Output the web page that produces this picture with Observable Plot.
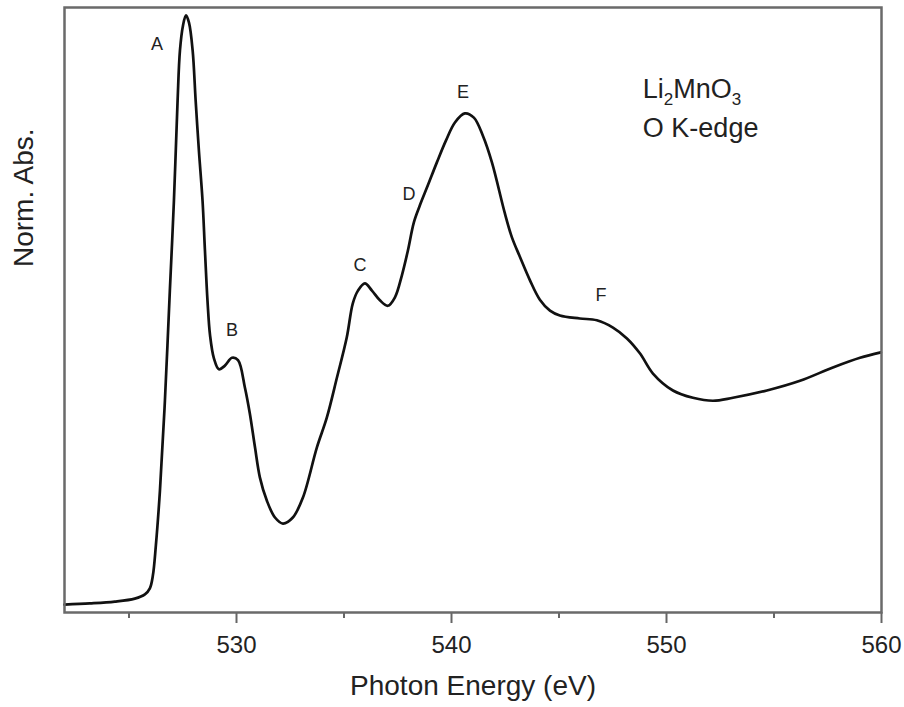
<!DOCTYPE html>
<html>
<head>
<meta charset="utf-8">
<script src="https://cdn.jsdelivr.net/npm/d3@7"></script>
<script src="https://cdn.jsdelivr.net/npm/@observablehq/plot@0.6"></script>
<style>
  html, body { margin: 0; padding: 0; background: #fff; }
  #chart { width: 904px; height: 707px; }
</style>
</head>
<body>
<div id="chart"></div>
<script>
// Photon energy (eV) and normalized absorbance
const energy = [
  522.00, 523.18, 524.34, 525.27, 525.74, 525.97, 526.11, 526.25, 526.44, 526.67,
  526.90, 527.09, 527.26, 527.37, 527.51, 527.65, 527.79, 527.96, 528.10, 528.25,
  528.42, 528.53, 528.65, 528.77, 528.95, 529.18, 529.46, 529.79, 530.07, 530.39,
  530.62, 530.86, 531.09, 531.41, 531.79, 532.16, 532.62, 533.09, 533.74, 534.20,
  534.67, 535.13, 535.41, 535.65, 535.97, 536.30, 536.67, 537.04, 537.37, 537.69,
  537.97, 538.25, 538.53, 538.90, 539.32, 539.74, 540.16, 540.62, 541.04, 541.46,
  541.88, 542.48, 542.81, 543.18, 543.65, 544.11, 544.58, 545.04, 545.97, 546.76,
  547.51, 548.16, 548.77, 549.37, 550.30, 551.23, 552.16, 553.09, 554.67, 556.21,
  557.74, 559.00, 559.97
];
const absorbance = [
  0.013, 0.015, 0.018, 0.023, 0.030, 0.040, 0.061, 0.111, 0.202, 0.350,
  0.532, 0.681, 0.846, 0.929, 0.970, 0.987, 0.975, 0.929, 0.846, 0.764,
  0.681, 0.600, 0.516, 0.458, 0.420, 0.402, 0.408, 0.421, 0.417, 0.372,
  0.329, 0.273, 0.223, 0.185, 0.157, 0.147, 0.157, 0.190, 0.273, 0.322,
  0.388, 0.455, 0.511, 0.532, 0.544, 0.532, 0.516, 0.507, 0.521, 0.557,
  0.598, 0.645, 0.673, 0.706, 0.744, 0.780, 0.810, 0.825, 0.818, 0.788,
  0.744, 0.660, 0.620, 0.588, 0.549, 0.517, 0.499, 0.491, 0.486, 0.483,
  0.471, 0.453, 0.428, 0.395, 0.367, 0.355, 0.350, 0.355, 0.367, 0.383,
  0.405, 0.421, 0.430
];

// Peak labels
const peakNames = ["A", "B", "C", "D", "E", "F"];
const peakEnergy = [526.30, 529.79, 535.74, 538.02, 540.53, 546.95];
const peakLevel = [0.940, 0.466, 0.574, 0.691, 0.860, 0.524];

// Axis ticks
const majorTicks = [530, 540, 550, 560];
const minorTicks = [525, 535, 545, 555];

// Annotation text
const formulaParts = ["Li", "2", "MnO", "3"];
const edgeLabel = "O K-edge";
const legendEnergy = 548.90;
const legendLevel = [0.865, 0.801];

const curve = energy.map((e, i) => ({e, a: absorbance[i]}));
const peaks = peakNames.map((n, i) => ({n, e: peakEnergy[i], a: peakLevel[i]}));
const formulaText = formulaParts.join("");

const font = "'Liberation Sans', Arial, Helvetica, sans-serif";

const plot = Plot.plot({
  width: 904,
  height: 707,
  marginLeft: 64,
  marginRight: 23,
  marginTop: 7,
  marginBottom: 95,
  style: {fontFamily: font, background: "#fff", color: "#222"},
  x: {domain: [522, 560], axis: null},
  y: {domain: [0, 1], axis: null},
  marks: [
    Plot.axisX({ticks: minorTicks, tickSize: 6, stroke: "#666", strokeWidth: 2, text: null, label: null}),
    Plot.axisX({ticks: majorTicks, tickSize: 11, tickPadding: 12, stroke: "#666", strokeWidth: 2,
                fontSize: 24, color: "#222", label: null, tickFormat: d => String(d)}),
    Plot.line(curve, {x: "e", y: "a", curve: "catmull-rom", stroke: "#111", strokeWidth: 2.7}),
    Plot.frame({stroke: "#6a6a6a", strokeWidth: 2.5}),
    Plot.text(peaks, {x: "e", y: "a", text: "n", fontSize: 18, fill: "#222", lineAnchor: "middle"}),
    Plot.text([formulaText], {x: () => legendEnergy, y: () => legendLevel[0], text: d => d,
               textAnchor: "start", fontSize: 27, fill: "#222", lineAnchor: "middle"}),
    Plot.text([edgeLabel], {x: () => legendEnergy, y: () => legendLevel[1], text: d => d,
               textAnchor: "start", fontSize: 27, fill: "#222", lineAnchor: "middle"}),
    Plot.text(["Photon Energy (eV)"], {frameAnchor: "bottom", dy: 74, text: d => d,
               fontSize: 28, fill: "#222", lineAnchor: "middle"}),
    Plot.text(["Norm. Abs."], {frameAnchor: "left", dx: -40, dy: -43, rotate: -90, text: d => d,
               fontSize: 28, fill: "#222", lineAnchor: "middle"})
  ]
});

// Render the chemical formula with subscripts
d3.select(plot).selectAll("text").filter(function() {
  return this.textContent === formulaText;
}).each(function() {
  const t = d3.select(this);
  t.text(null);
  formulaParts.forEach((p, i) => {
    const sub = i % 2 === 1;
    const ts = t.append("tspan").text(p);
    if (sub) ts.attr("font-size", 17).attr("dy", 7);
    else if (i > 0) ts.attr("dy", -7);
  });
});

document.getElementById("chart").appendChild(plot);
</script>
</body>
</html>
